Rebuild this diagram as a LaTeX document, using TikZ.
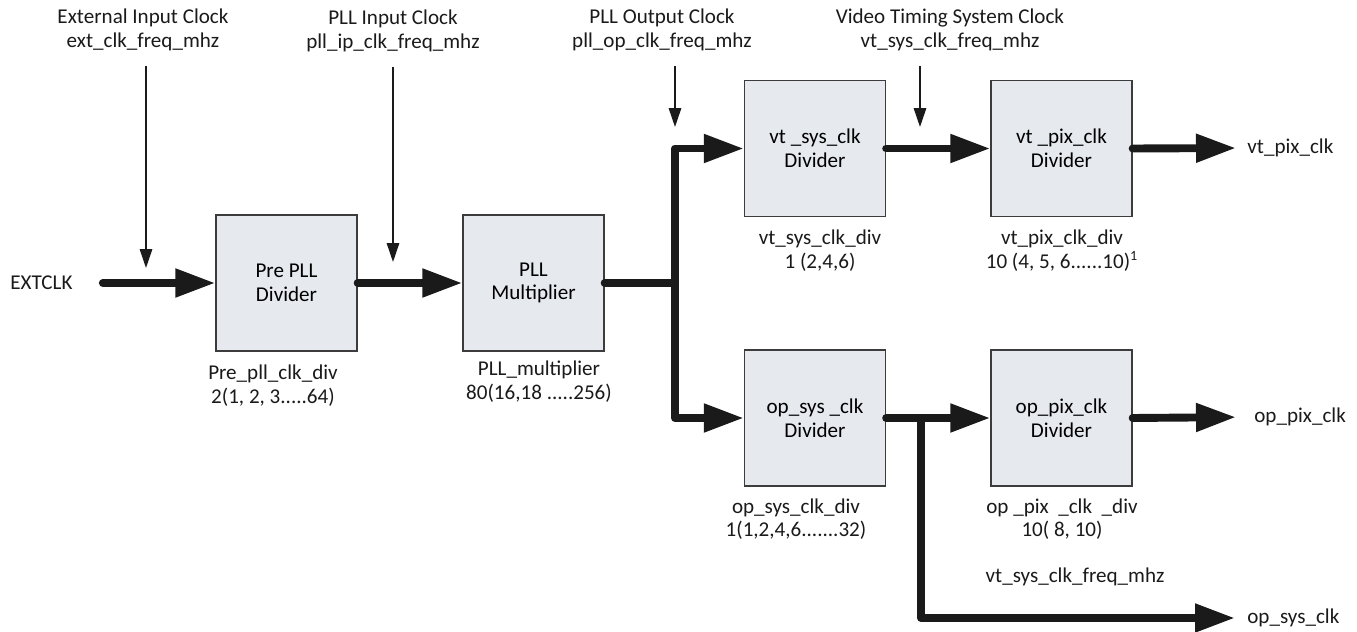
\documentclass[tikz,border=0pt]{standalone}
\usepackage{fontspec}
\setmainfont{Carlito}
\usetikzlibrary{arrows.meta}
\definecolor{boxfill}{HTML}{E6E9EE}
\definecolor{ink}{HTML}{1A1A1A}

\begin{document}
\begin{tikzpicture}[x=0.02cm,y=-0.02cm,
        font=\fontsize{12}{13.4}\selectfont,
        blk/.style={draw=ink!85,line width=0.75pt,fill=boxfill,minimum width=2.82cm,minimum height=2.72cm,align=center,inner sep=0pt},
        lbl/.style={align=center,inner sep=0pt,text=ink},
        bus/.style={draw=ink,line width=4.5pt,line cap=round,line join=round},
        busarr/.style={bus,-{Triangle[length=0.8cm,width=0.54cm]}},
        sig/.style={draw=ink,line width=0.85pt,-{Triangle[length=0.38cm,width=0.25cm]}}]
        \useasboundingbox (0,0) rectangle (1357,632);
        % blocks
        \node[blk] (prepll) at (286.5,283) {Pre PLL\\Divider};
        \node[blk] (pllmul) at (533.5,283) {PLL\\Multiplier};
        \node[blk] (vtsys) at (815,148.5) {vt \_sys\_clk\\Divider};
        \node[blk] (vtpix) at (1061.5,148.5) {vt \_pix\_clk\\Divider};
        \node[blk] (opsys) at (815,418) {op\_sys \_clk\\Divider};
        \node[blk] (oppix) at (1061.5,418) {op\_pix\_clk\\Divider};
        % clock names on top
        \node[lbl] (extfreq) at (143,30) {External Input Clock\\ext\_clk\_freq\_mhz};
        \node[lbl] (pllin) at (393,31) {PLL Input Clock\\pll\_ip\_clk\_freq\_mhz};
        \node[lbl] (pllout) at (662,30) {PLL Output Clock\\pll\_op\_clk\_freq\_mhz};
        \node[lbl] (vtfreq) at (950,30) {Video Timing System Clock\\vt\_sys\_clk\_freq\_mhz};
        % divider values
        \node[lbl] (prediv) at (273,385.5) {Pre\_pll\_clk\_div\\2(1, 2, 3.....64)};
        \node[lbl] (mulval) at (539,381.5) {PLL\_multiplier\\80(16,18 .....256)};
        \node[lbl] (vtsysdiv) at (820,250.5) {vt\_sys\_clk\_div\\1 (2,4,6)};
        \node[lbl] (vtpixdiv) at (1062,250.5) {vt\_pix\_clk\_div\\10 (4, 5, 6......10)\textsuperscript{1}};
        \node[lbl] (opsysdiv) at (796,519) {op\_sys\_clk\_div\\1(1,2,4,6.......32)};
        \node[lbl] (oppixdiv) at (1062,519) {op \_pix \ \_clk \ \_div\\10( 8, 10)};
        \node[lbl] (vtfreqb) at (1075,577) {vt\_sys\_clk\_freq\_mhz};
        % inputs and outputs
        \node[lbl,anchor=west] (extclk) at (10,283) {EXTCLK};
        \node[lbl,anchor=west] (vtpixclk) at (1247,148) {vt\_pix\_clk};
        \node[lbl,anchor=west] (oppixclk) at (1254,417) {op\_pix\_clk};
        \node[lbl,anchor=west] (opsysclk) at (1247,618) {op\_sys\_clk};
        \coordinate (extin) at (146,268);
        \coordinate (pllinpt) at (393,262);
        \coordinate (plloutpt) at (675,127);
        \coordinate (vtfreqpt) at (920,127);
        \coordinate (split) at (675,283);
        \coordinate (branch) at (921,418);
        % clock paths
        \draw[busarr,shorten <=0.6cm] (extclk.east) -- (prepll.west);
        \draw[busarr] (prepll.east) -- (pllmul.west);
        \draw[bus] (pllmul.east) -- (split);
        \draw[busarr] (split) |- (vtsys.west);
        \draw[busarr] (split) |- (opsys.west);
        \draw[busarr] (vtsys.east) -- (vtpix.west);
        \draw[busarr,shorten >=0.22cm] (vtpix.east) -- (vtpixclk.west);
        \draw[busarr] (opsys.east) -- (oppix.west);
        \draw[busarr,shorten >=0.36cm] (oppix.east) -- (oppixclk.west);
        \draw[busarr,shorten >=0.24cm] (branch) |- (opsysclk.west);
        % frequency arrows
        \draw[sig,shorten <=0.3cm] (extfreq.south -| extin) -- (extin);
        \draw[sig,shorten <=0.3cm] (pllin.south -| pllinpt) -- (pllinpt);
        \draw[sig,shorten <=0.3cm] (pllout.south -| plloutpt) -- (plloutpt);
        \draw[sig,shorten <=0.3cm] (vtfreq.south -| vtfreqpt) -- (vtfreqpt);
    \end{tikzpicture}
\end{document}
